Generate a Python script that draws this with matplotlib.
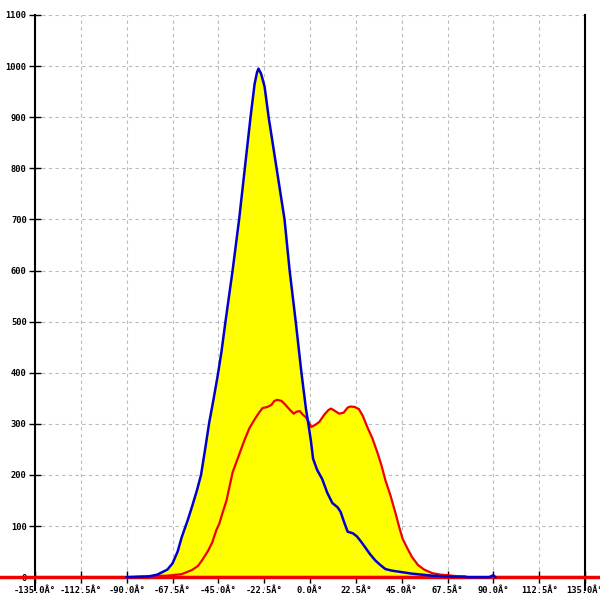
import matplotlib.pyplot as plt

plt.rcParams['font.family'] = 'DejaVu Sans Mono'
plt.rcParams['font.weight'] = 'bold'

# blue series (angle in degrees, count)
blue_x = [-90, -80, -75, -70, -67.5, -65, -63, -60, -58, -55.5, -53.5, -51.5, -49.5, -47.5,
          -45.5, -43.5, -41.5, -38, -34.8, -32, -29.2, -27.2, -26, -25.3, -24, -22.3,
          -20.3, -16.4, -12.5, -10, -7, -4.2, -2, -0.8, 0.5, 1.5, 3.5, 6, 8.5, 11, 13.5,
          15, 17, 18.5, 21, 23, 25, 27, 29.5, 32, 34.5, 37, 40, 45, 50, 55, 60, 65, 70, 76,
          77, 88, 90, 91]
blue_y = [0, 1, 5, 15, 27, 50, 78, 112, 137, 170, 200, 250, 302, 345,
          390, 440, 500, 600, 700, 800, 900, 965, 988, 995, 985, 960,
          900, 800, 700, 600, 500, 400, 330, 300, 265, 232, 210, 192, 165, 145, 137,
          128, 105, 89, 86, 80, 70, 59, 45, 33, 24, 16, 13, 10, 7, 5, 3, 2, 1, 1,
          0, 0, 4, 0]

# red series
red_x = [-90, -80, -70, -63, -58, -55, -53, -50, -48, -46, -44.5, -43, -41, -38, -34.5,
         -32, -29.7, -27, -25, -23.3, -21, -19, -17.5, -16, -14, -12, -10, -8, -6.5, -5,
         -3.5, -1.8, 0.6, 2.5, 4.6, 7, 9, 10.3, 12, 14.3, 16.5, 18.5, 20, 22, 24, 26, 28,
         30.6, 33, 35, 37, 39.5, 42, 44, 45.5, 48, 50, 53, 56, 60, 64, 67.5, 72, 76, 78]
red_y = [0, 2, 3, 6, 14, 22, 33, 52, 68, 92, 105, 125, 150, 205, 243,
         270, 292, 310, 322, 331, 333, 337, 345, 347, 345, 337, 328, 320, 324, 325,
         318, 312, 294, 298, 304, 318, 327, 330, 326, 320, 322, 332, 334, 333, 329, 315, 295,
         272, 245, 220, 190, 160, 125, 95, 75, 55, 40, 24, 15, 8, 5, 4, 2, 1, 0]

xticks = [-135, -112.5, -90, -67.5, -45, -22.5, 0, 22.5, 45, 67.5, 90, 112.5, 135]
xlabels = ['%.1f\u00c2\u00b0' % t for t in xticks]
yticks = list(range(0, 1200, 100))

fig = plt.figure(figsize=(6, 6), dpi=100)
ax = fig.add_axes([35 / 600, 10 / 600, 550 / 600, 575 / 600])

ax.fill_between(blue_x, blue_y, 0, color='#ffff00', lw=0, zorder=2)
ax.fill_between(red_x, red_y, 0, color='#ffff00', lw=0, zorder=2)
ax.plot([-160, 150], [0, 0], color='#ee0000', lw=2.5, clip_on=False, zorder=3)
ax.plot(red_x, red_y, color='#ee0000', lw=1.6, zorder=4)
ax.plot(blue_x, blue_y, color='#0000cc', lw=1.8, zorder=5)

ax.set_xlim(-135, 135)
ax.set_ylim(-25, 1100)
ax.set_xticks(xticks, xlabels)
ax.set_yticks(yticks, [str(t) for t in yticks])

ax.tick_params(direction='inout', length=8, width=1.0, pad=2, colors='black', labelsize=6.3)
ax.grid(True, color='#bbbbbb', linestyle=(0, (3, 3)), lw=0.8, zorder=1)

ax.spines['top'].set_visible(False)
ax.spines['bottom'].set_position(('data', 0))
for s in ['left', 'right', 'bottom']:
    ax.spines[s].set_linewidth(1.5)

plt.savefig('out.png', dpi=100)
